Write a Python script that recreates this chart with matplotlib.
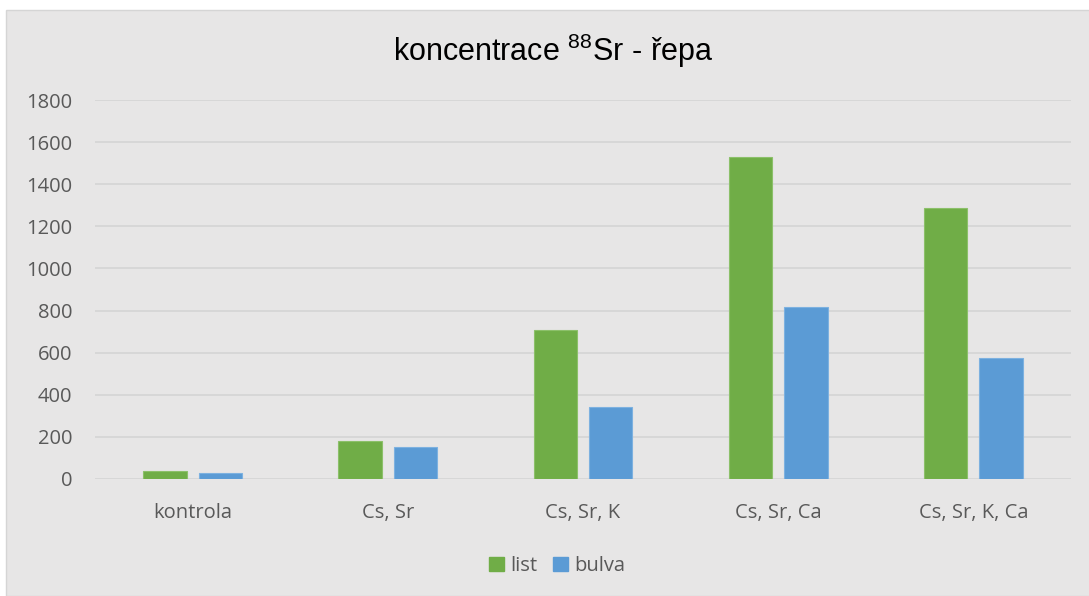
import matplotlib
matplotlib.use("Agg")
import matplotlib.pyplot as plt
from matplotlib.patches import Rectangle, Patch
import numpy as np

categories = ["kontrola", "Cs, Sr", "Cs, Sr, K", "Cs, Sr, Ca", "Cs, Sr, K, Ca"]
list_vals = [38, 180, 707, 1530, 1287]
bulva_vals = [30, 152, 342, 817, 573]
series_names = ["list", "bulva"]
yticks = [0, 200, 400, 600, 800, 1000, 1200, 1400, 1600, 1800]

plt.rcParams["mathtext.fontset"] = "custom"
plt.rcParams["mathtext.rm"] = "Liberation Sans"

W, H = 1089, 596
fig = plt.figure(figsize=(W / 100, H / 100), dpi=100)
fig.patch.set_facecolor("white")

bg = Rectangle((6 / W, 0), 1.2, 1 - 10 / H, transform=fig.transFigure,
               facecolor="#E7E6E6", edgecolor="#D5D5D5", linewidth=1.0, zorder=-10)
fig.patches.append(bg)

ax = fig.add_axes([95 / W, 1 - 479 / H, (1071 - 95) / W, (479 - 100) / H])
ax.set_facecolor("none")
ax.set_zorder(1)

x = np.arange(len(categories))
bw = 0.223
off = 0.142
ax.bar(x - off, list_vals, bw, color="#70AD47", edgecolor="#8CC06A", linewidth=0.8, zorder=3, label=series_names[0])
ax.bar(x + off, bulva_vals, bw, color="#5B9BD5", edgecolor="#7DB1E0", linewidth=0.8, zorder=3, label=series_names[1])

ax.set_xlim(-0.5, len(categories) - 0.5)
ax.set_ylim(0, 1800)
ax.set_yticks(yticks)
ax.set_xticks(x)
ax.set_xticklabels(categories)
ax.yaxis.grid(True, color="#D6D6D6", linewidth=1.3, zorder=0)
ax.set_axisbelow(True)
for s in ax.spines.values():
    s.set_visible(False)
ax.tick_params(axis="both", length=0, colors="#595959", labelsize=14.5)
ax.tick_params(axis="y", pad=16.5)
ax.tick_params(axis="x", pad=17.5)
for lab in ax.get_xticklabels() + ax.get_yticklabels():
    lab.set_fontfamily("Open Sans")
    lab.set_color("#595959")

fig.text(553 / W, 1 - 51 / H, r"koncentrace $\mathregular{^{88}}$Sr - řepa",
         ha="center", va="center", fontsize=22, color="black",
         family="Liberation Sans")

handles = [Patch(facecolor="#70AD47", edgecolor="#70AD47"),
           Patch(facecolor="#5B9BD5", edgecolor="#5B9BD5")]
leg = fig.legend(handles, series_names, loc="center", bbox_to_anchor=(557 / W, 1 - 566 / H),
                 ncol=2, frameon=False, handlelength=0.75, handleheight=0.75,
                 handletextpad=0.3, columnspacing=0.8,
                 prop={"family": "Open Sans", "size": 14.5})
for t in leg.get_texts():
    t.set_color("#595959")

fig.savefig("out.png", dpi=100, facecolor="white")
